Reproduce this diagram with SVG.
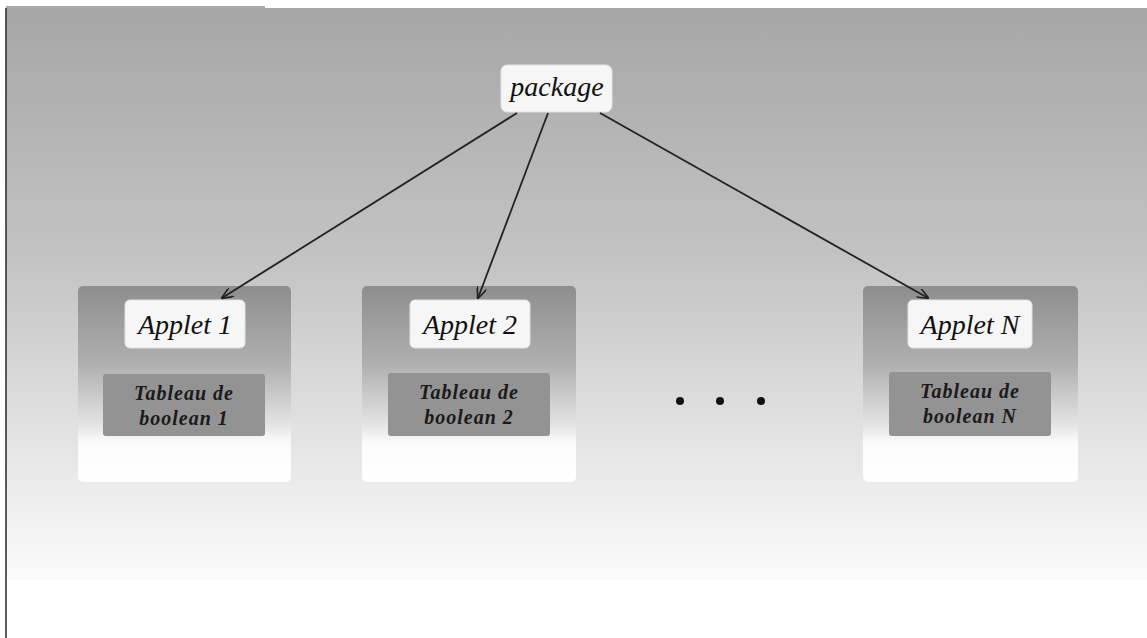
<svg xmlns="http://www.w3.org/2000/svg" width="1147" height="638" viewBox="0 0 1147 638">
  <defs>
    <linearGradient id="bg" x1="0" y1="0" x2="0" y2="1">
      <stop offset="0" stop-color="#a6a6a6"/>
      <stop offset="0.45" stop-color="#c4c4c4"/>
      <stop offset="0.8" stop-color="#e8e8e8"/>
      <stop offset="1" stop-color="#fbfbfb"/>
    </linearGradient>
    <linearGradient id="card" x1="0" y1="0" x2="0" y2="1">
      <stop offset="0" stop-color="#8e8e8e"/>
      <stop offset="0.4" stop-color="#b0b0b0"/>
      <stop offset="0.7" stop-color="#e2e2e2"/>
      <stop offset="0.8" stop-color="#fbfbfb"/>
      <stop offset="1" stop-color="#ffffff"/>
    </linearGradient>
    <marker id="arrow" viewBox="0 0 12 10" refX="11" refY="5" markerWidth="12" markerHeight="10" markerUnits="userSpaceOnUse" orient="auto">
      <path d="M0,0 L12,5 L0,10" fill="none" stroke="#222" stroke-width="1.6"/>
    </marker>
  </defs>
  <style>
    .card { fill: url(#card); }
    .label { fill: #f6f6f6; stroke: #e2e2e2; stroke-width: 1; }
    .table { fill: #939393; }
    .title { font-family: "Liberation Serif", "DejaVu Serif", serif; font-style: italic; font-size: 28px; fill: #111; text-anchor: middle; }
    .cell { font-family: "Liberation Serif", "DejaVu Serif", serif; font-style: italic; font-weight: bold; font-size: 20px; letter-spacing: 1px; fill: #1a1a1a; text-anchor: middle; }
    .edge { stroke: #222; stroke-width: 1.8; fill: none; marker-end: url(#arrow); }
  </style>

  <!-- page and frame -->
  <rect x="0" y="0" width="1147" height="638" fill="#ffffff"/>
  <rect x="6" y="8" width="1141" height="572" fill="url(#bg)"/>
  <line x1="6" y1="8" x2="6" y2="638" stroke="#333" stroke-width="1.6"/>
  <line x1="6" y1="7" x2="265" y2="7" stroke="#555" stroke-width="1.2"/>

  <g id="package">
    <rect class="label" x="501" y="65" width="111" height="47" rx="6"/>
    <text class="title" x="557" y="96" font-size="25">package</text>
  </g>

  <g id="applet1">
    <rect class="card" x="78" y="286" width="213" height="196" rx="5"/>
    <rect class="label" x="125" y="300" width="120" height="48" rx="5"/>
    <text class="title" x="185" y="334">Applet 1</text>
    <rect class="table" x="103" y="374" width="162" height="62" rx="3"/>
    <text class="cell" x="184" y="400">Tableau de</text>
    <text class="cell" x="184" y="425">boolean 1</text>
  </g>

  <g id="applet2">
    <rect class="card" x="362" y="286" width="214" height="196" rx="5"/>
    <rect class="label" x="410" y="300" width="120" height="48" rx="5"/>
    <text class="title" x="470" y="334">Applet 2</text>
    <rect class="table" x="388" y="373" width="162" height="63" rx="3"/>
    <text class="cell" x="469" y="399">Tableau de</text>
    <text class="cell" x="469" y="424">boolean 2</text>
  </g>

  <g id="ellipsis">
    <circle cx="680" cy="401" r="4" fill="#111"/>
    <circle cx="720" cy="401" r="4" fill="#111"/>
    <circle cx="761" cy="401" r="4" fill="#111"/>
  </g>

  <g id="appletN">
    <rect class="card" x="863" y="286" width="215" height="196" rx="5"/>
    <rect class="label" x="908" y="300" width="124" height="48" rx="5"/>
    <text class="title" x="970" y="334">Applet N</text>
    <rect class="table" x="889" y="372" width="162" height="64" rx="3"/>
    <text class="cell" x="970" y="398">Tableau de</text>
    <text class="cell" x="970" y="423">boolean N</text>
  </g>

  <!-- connectors, drawn over the cards so the heads stay visible -->
  <g id="connectors">
    <line class="edge" x1="517" y1="113" x2="222" y2="298"/>
    <line class="edge" x1="548" y1="113" x2="478" y2="298"/>
    <line class="edge" x1="600" y1="113" x2="928" y2="298"/>
  </g>
</svg>
